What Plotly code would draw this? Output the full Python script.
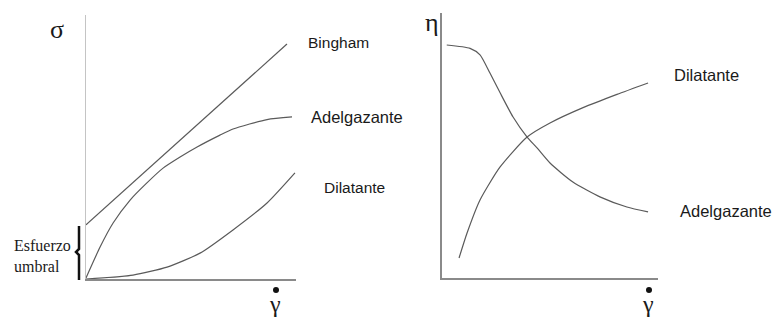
import plotly.graph_objects as go

W, H = 777, 322

# ---- Shear stress vs shear rate (left panel) ----
bingham_x = [0.0, 9.57]
bingham_y = [2.05, 8.9]

adelg_x = [0.0, 0.67, 1.29, 2.1, 2.9, 3.67, 4.48, 5.29, 6.38, 7.0, 8.62, 9.81]
adelg_y = [0.04, 1.21, 2.12, 2.99, 3.64, 4.2, 4.62, 5.0, 5.45, 5.68, 6.04, 6.14]

dilat_x = [0.0, 2.24, 3.86, 5.43, 7.0, 8.62, 9.95]
dilat_y = [0.0, 0.15, 0.45, 0.98, 1.86, 2.88, 4.02]

# ---- Viscosity vs shear rate (right panel) ----
visc_adelg_x = [0.22, 1.30, 1.76, 2.22, 2.69, 3.29, 3.94, 4.4, 5.0, 6.06, 7.31, 8.56, 9.54]
visc_adelg_y = [8.96, 8.83, 8.58, 7.88, 7.12, 6.19, 5.42, 5.0, 4.42, 3.69, 3.12, 2.73, 2.54]

visc_dilat_x = [0.79, 1.16, 1.76, 2.69, 3.94, 5.0, 6.53, 8.1, 9.54]
visc_dilat_y = [0.77, 1.73, 3.0, 4.27, 5.42, 5.96, 6.55, 7.06, 7.5]

CURVE = "#5a5a5a"
SANS = "Liberation Sans, Arial, sans-serif"
SERIF = "Liberation Serif, Times New Roman, serif"


def px(x):
    return x / W


def py(y):
    return (H - y) / H


fig = go.Figure()

line = dict(color=CURVE, width=1.2, shape="spline", smoothing=0.6)
for xs, ys in [(bingham_x, bingham_y), (adelg_x, adelg_y), (dilat_x, dilat_y)]:
    fig.add_trace(go.Scatter(x=xs, y=ys, mode="lines", line=line,
                             xaxis="x", yaxis="y", hoverinfo="skip"))
for xs, ys in [(visc_adelg_x, visc_adelg_y), (visc_dilat_x, visc_dilat_y)]:
    fig.add_trace(go.Scatter(x=xs, y=ys, mode="lines", line=line,
                             xaxis="x2", yaxis="y2", hoverinfo="skip"))

axis_common = dict(showgrid=False, zeroline=False, showticklabels=False,
                   ticks="", fixedrange=True)

fig.update_layout(
    width=W, height=H,
    margin=dict(l=0, r=0, t=0, b=0),
    paper_bgcolor="white", plot_bgcolor="rgba(0,0,0,0)",
    showlegend=False,
    xaxis=dict(domain=[px(86), px(296)], range=[0, 10], anchor="y",
               showline=True, linecolor="#8a8a8a", linewidth=2, **axis_common),
    yaxis=dict(domain=[py(279), py(15)], range=[0, 10], anchor="x",
               showline=True, linecolor="#c4c4c4", linewidth=1, **axis_common),
    xaxis2=dict(domain=[px(442), px(658)], range=[0, 10], anchor="y2",
                showline=True, linecolor="#8a8a8a", linewidth=2, **axis_common),
    yaxis2=dict(domain=[py(278), py(13)], range=[0, 10.19], anchor="x2",
                showline=True, linecolor="#8a8a8a", linewidth=2, **axis_common),
)

# Curve labels
labels = [
    ("Bingham", 306, 43, 15.5),
    ("Adelgazante", 309, 117, 16.5),
    ("Dilatante", 322, 187, 15.5),
    ("Dilatante", 672, 75, 16.5),
    ("Adelgazante", 678, 211, 16.5),
]
for text, x, y, size in labels:
    fig.add_annotation(text=text, x=px(x), y=py(y), xref="paper", yref="paper",
                       xanchor="left", yanchor="middle", showarrow=False,
                       font=dict(family=SANS, size=size, color="#1a1a1a"))

# Axis symbols
symbols = [
    ("σ", 57, 30, 26),
    ("η", 432, 23, 26),
    ("γ", 275, 304, 24),
    ("γ", 648, 304, 24),
]
for text, x, y, size in symbols:
    fig.add_annotation(text=text, x=px(x), y=py(y), xref="paper", yref="paper",
                       xanchor="center", yanchor="middle", showarrow=False,
                       font=dict(family=SERIF, size=size, color="#1a1a1a"))

# Dots marking the time derivative on the shear-rate symbols
for x in (276, 649):
    fig.add_shape(type="circle", xref="paper", yref="paper",
                  x0=px(x - 3), x1=px(x + 3), y0=py(293), y1=py(287),
                  fillcolor="#111", line=dict(width=0))

# Yield stress note with brace
fig.add_annotation(text="Esfuerzo<br>umbral", x=px(12), y=py(256),
                   xref="paper", yref="paper", xanchor="left", yanchor="middle",
                   align="left", showarrow=False,
                   font=dict(family=SERIF, size=16, color="#1a1a1a"))

bx0, bx1 = px(79), px(76)
fig.add_shape(type="path", xref="paper", yref="paper",
              path=(f"M {bx0} {py(226)} L {bx0} {py(249)} L {bx1} {py(252)} "
                    f"L {bx0} {py(255)} L {bx0} {py(280)}"),
              line=dict(color="#111", width=2.5))

fig.write_html("out.html")
